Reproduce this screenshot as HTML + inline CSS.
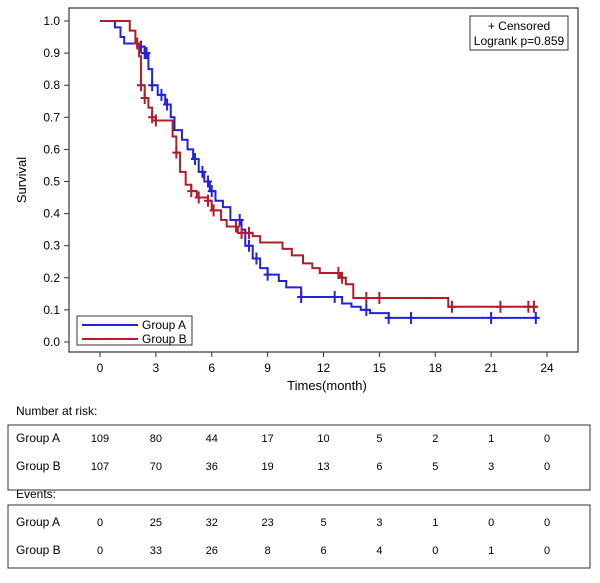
<!DOCTYPE html>
<html><head><meta charset="utf-8"><style>
body{margin:0;background:#fff;font-family:"Liberation Sans",sans-serif}
svg text{font-family:"Liberation Sans",sans-serif;fill:#000}
</style></head><body>
<svg width="600" height="578" id="c">
<rect x="69" y="8" width="509" height="344" fill="none" stroke="#333" stroke-width="1.2"/>
<g id="axes"></g><g id="curves"></g>
<g><rect x="470" y="16" width="98" height="34" fill="#fff" stroke="#333"/>
<text x="519" y="30" font-size="12" text-anchor="middle">+ Censored</text>
<text x="519" y="45" font-size="12" text-anchor="middle">Logrank p=0.859</text></g>
<g><rect x="77" y="316" width="115" height="29" fill="#fff" stroke="#333"/>
<line x1="82" y1="325" x2="138" y2="325" stroke="#2222dd" stroke-width="2"/><text x="142" y="329" font-size="12">Group A</text>
<line x1="82" y1="339" x2="138" y2="339" stroke="#b01c28" stroke-width="2"/><text x="142" y="343" font-size="12">Group B</text></g>
<text x="327" y="390" font-size="13" text-anchor="middle">Times(month)</text>
<text transform="translate(26,180) rotate(-90)" font-size="13" text-anchor="middle">Survival</text>
<text x="16" y="415" font-size="12">Number at risk:</text>
<rect x="8" y="425" width="582" height="65" fill="none" stroke="#333"/>
<text x="16" y="498" font-size="12">Events:</text>
<rect x="8" y="505" width="582" height="63" fill="none" stroke="#333"/>
<g id="tables"></g>
</svg>
<script>
const xTicks=[0,3,6,9,12,15,18,21,24];
const yTicks=[0,0.1,0.2,0.3,0.4,0.5,0.6,0.7,0.8,0.9,1.0];
const aTimes=[0,0.8,1.1,1.3,2.0,2.4,2.6,2.8,3.1,3.5,3.8,4.0,4.4,4.7,5.0,5.3,5.6,5.9,6.2,6.6,7.0,7.6,7.8,8.2,8.6,9.0,9.6,10.0,10.8,13.0,13.5,14.0,14.5,15.5];
const aSurv=[1,0.98,0.95,0.93,0.92,0.90,0.85,0.80,0.77,0.74,0.70,0.66,0.63,0.60,0.57,0.53,0.50,0.47,0.44,0.42,0.38,0.35,0.30,0.26,0.23,0.21,0.19,0.17,0.14,0.12,0.11,0.10,0.09,0.075];
const aEnd=23.5;
const aCens=[2.2,2.4,2.5,2.8,3.3,3.6,5.1,5.5,5.8,6.0,7.5,8.0,8.4,9.0,10.8,12.6,14.3,15.5,16.7,21.0,23.4];
const bTimes=[0,1.6,1.9,2.1,2.2,2.4,2.6,2.8,3.0,3.9,4.1,4.3,4.6,4.9,5.2,5.8,6.0,6.5,6.8,7.4,8.2,8.6,9.8,10.3,10.9,11.4,11.8,12.9,13.2,13.6,18.7];
const bSurv=[1,0.97,0.93,0.89,0.80,0.76,0.73,0.70,0.69,0.64,0.59,0.53,0.49,0.47,0.45,0.44,0.41,0.38,0.36,0.34,0.33,0.31,0.29,0.27,0.245,0.23,0.215,0.20,0.18,0.137,0.11];
const bEnd=23.5;
const bCens=[2.0,2.2,2.4,2.8,3.0,4.1,4.9,5.3,5.8,6.1,7.3,7.6,8.0,12.8,13.0,14.3,15.0,18.9,21.5,23.0,23.3];
const riskA=[109,80,44,17,10,5,2,1,0];
const riskB=[107,70,36,19,13,6,5,3,0];
const evA=[0,25,32,23,5,3,1,0,0];
const evB=[0,33,26,8,6,4,0,1,0];
const NS="http://www.w3.org/2000/svg";
const X=t=>100+t*18.625, Y=s=>342-s*321;
function mk(tag,at,par){const e=document.createElementNS(NS,tag);for(const k in at)e.setAttribute(k,at[k]);par.appendChild(e);return e;}
const ax=document.getElementById('axes');
xTicks.forEach(t=>{mk('line',{x1:X(t),x2:X(t),y1:352,y2:357,stroke:'#333'},ax);
const tx=mk('text',{x:X(t),y:372,'font-size':12,'text-anchor':'middle'},ax);tx.textContent=t;

});
yTicks.forEach(v=>{mk('line',{x1:64,x2:69,y1:Y(v),y2:Y(v),stroke:'#333'},ax);
const tx=mk('text',{x:60,y:Y(v)+4,'font-size':12,'text-anchor':'end'},ax);tx.textContent=v.toFixed(1);

});
const cv=document.getElementById('curves');
function surv(times,s,t){let v=s[0];for(let i=0;i<times.length;i++)if(times[i]<=t)v=s[i];return v;}
function curve(times,s,end,cens,col,name){
let d='M'+X(times[0])+' '+Y(s[0]);
for(let i=1;i<times.length;i++){d+=' H'+X(times[i])+' V'+Y(s[i]);}
d+=' H'+X(end);
const p=mk('path',{d:d,fill:'none',stroke:col,'stroke-width':2},cv);


cens.forEach(t=>{const y=Y(surv(times,s,t));
const m=mk('path',{d:`M${X(t)-4} ${y} H${X(t)+4} M${X(t)} ${y-6} V${y+6}`,stroke:col,'stroke-width':2,fill:'none'},cv);

});}
curve(aTimes,aSurv,aEnd,aCens,'#2222dd','group-a-curve');
curve(bTimes,bSurv,bEnd,bCens,'#b01c28','group-b-curve');
const tb=document.getElementById('tables');
function row(label,vals,y,name){
const l=mk('text',{x:16,y:y+4,'font-size':12},tb);l.textContent=label;


vals.forEach((v,i)=>{const t=mk('text',{x:X(xTicks[i]),y:y+4,'font-size':11,'text-anchor':'middle'},tb);t.textContent=v;

});}
row('Group A',riskA,438,'risk-a');row('Group B',riskB,466,'risk-b');
row('Group A',evA,522,'events-a');row('Group B',evB,550,'events-b');
</script>
</body></html>
